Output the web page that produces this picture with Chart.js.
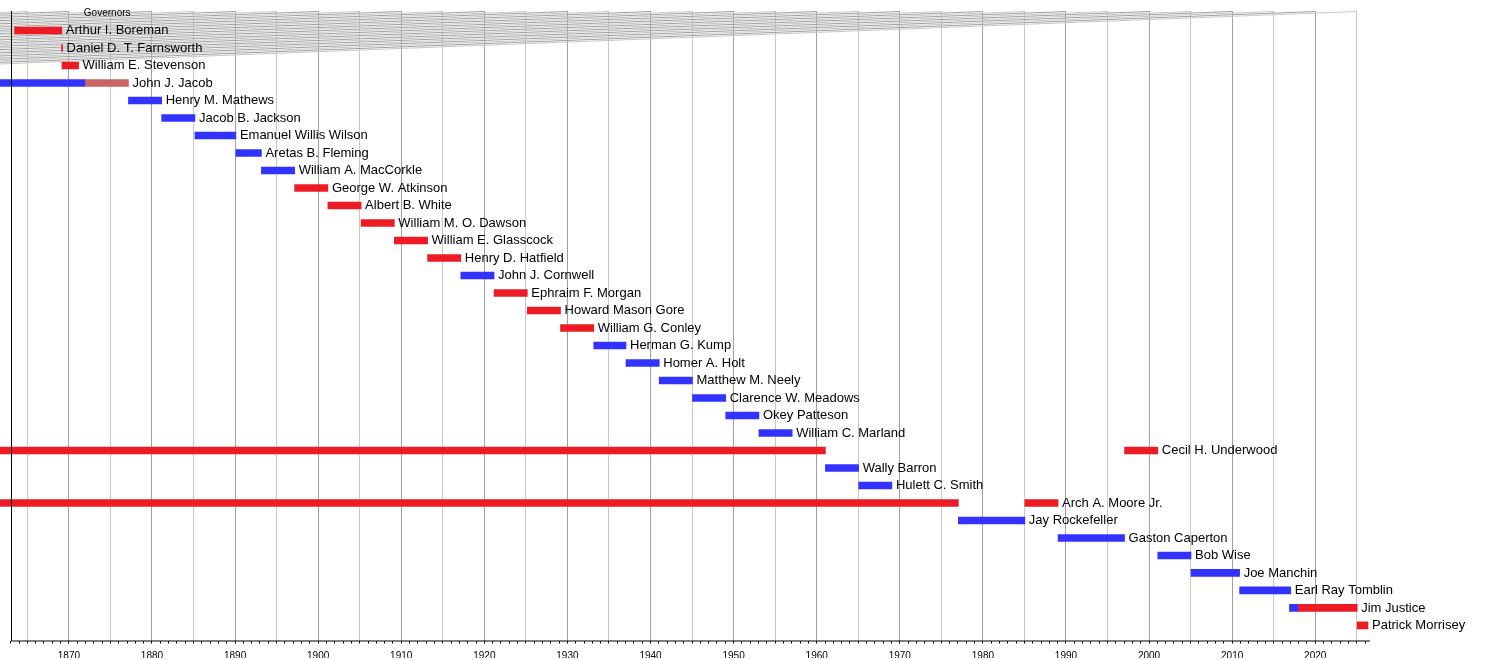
<!DOCTYPE html>
<html>
<head>
<meta charset="utf-8">
<script src="https://cdn.jsdelivr.net/npm/chart.js@4.4.1/dist/chart.umd.min.js"></script>
<style>
  html, body { margin: 0; padding: 0; background: #fff; }
  #wrap { width: 1500px; height: 660px; position: relative; }
</style>
</head>
<body>
<div id="wrap"><canvas id="timeline"></canvas></div>
<script>
const headerText = 'Governors';
const headerYear = 1871.8;

const governors = [
  'Arthur I. Boreman', 'Daniel D. T. Farnsworth', 'William E. Stevenson', 'John J. Jacob',
  'Henry M. Mathews', 'Jacob B. Jackson', 'Emanuel Willis Wilson', 'Aretas B. Fleming',
  'William A. MacCorkle', 'George W. Atkinson', 'Albert B. White', 'William M. O. Dawson',
  'William E. Glasscock', 'Henry D. Hatfield', 'John J. Cornwell', 'Ephraim F. Morgan',
  'Howard Mason Gore', 'William G. Conley', 'Herman G. Kump', 'Homer A. Holt',
  'Matthew M. Neely', 'Clarence W. Meadows', 'Okey Patteson', 'William C. Marland',
  'Cecil H. Underwood', 'Wally Barron', 'Hulett C. Smith', 'Arch A. Moore Jr.',
  'Jay Rockefeller', 'Gaston Caperton', 'Bob Wise', 'Joe Manchin',
  'Earl Ray Tomblin', 'Jim Justice', 'Patrick Morrisey'
];

// one entry per drawn bar: governor index, from, to, party
const termGov   = [0, 1, 2, 3, 3, 4, 5, 6, 7, 8, 9, 10, 11, 12, 13, 14, 15, 16, 17, 18, 19, 20, 21, 22, 23, 24, 24, 25, 26, 27, 27, 28, 29, 30, 31, 32, 33, 33, 34];
const termFrom  = [1863.47, 1869.12, 1869.17, 1855, 1872.0, 1877.17, 1881.17, 1885.17, 1890.1, 1893.17, 1897.17, 1901.17, 1905.17, 1909.17, 1913.17, 1917.17, 1921.17, 1925.17, 1929.17, 1933.17, 1937.05, 1941.05, 1945.05, 1949.05, 1953.05, 1855, 1997.05, 1961.05, 1965.05, 1855, 1985.05, 1977.05, 1989.05, 2001.05, 2005.05, 2010.9, 2016.9, 2018.0, 2025.05];
const termTo    = [1869.15, 1869.24, 1871.17, 1872.0, 1877.17, 1881.17, 1885.17, 1890.1, 1893.17, 1897.17, 1901.17, 1905.17, 1909.17, 1913.17, 1917.17, 1921.17, 1925.17, 1929.17, 1933.17, 1937.05, 1941.05, 1945.05, 1949.05, 1953.05, 1957.05, 1961.05, 2001.05, 1965.05, 1969.05, 1977.05, 1989.05, 1985.05, 1997.05, 2005.05, 2010.9, 2017.05, 2018.0, 2025.05, 2026.35];
const termParty = ['R', 'R', 'R', 'D', 'I', 'D', 'D', 'D', 'D', 'D', 'R', 'R', 'R', 'R', 'R', 'D', 'R', 'R', 'R', 'D', 'D', 'D', 'D', 'D', 'D', 'R', 'R', 'D', 'D', 'R', 'R', 'D', 'D', 'D', 'D', 'D', 'D', 'R', 'R'];

const partyColors = { D: '#3333ff', R: '#ed1c24', I: '#c86464' };

const axisStart = 1863;
const axisMin = 1861.71;
const axisMax = 2026.59;

const fontFamily = '"Liberation Sans", Arial, Helvetica, sans-serif';

function gridColor(v) {
  if (v < axisStart) return 'rgba(0,0,0,0)';
  if (v % 10 === 0) return '#a0a0a0';
  if (v % 5 === 0) return '#c8c8c8';
  return 'rgba(0,0,0,0)';
}

const timelineDecor = {
  id: 'timelineDecor',
  beforeDatasetsDraw(chart) {
    const { ctx, chartArea, scales: { x } } = chart;
    ctx.save();
    ctx.lineWidth = 1;
    x.ticks.forEach(t => {
      const c = gridColor(t.value);
      if (c === 'rgba(0,0,0,0)') return;
      const xg = x.getPixelForValue(t.value);
      ctx.strokeStyle = c;
      ctx.beginPath();
      ctx.moveTo(xg, chartArea.top + 0.5);
      ctx.lineTo(chartArea.left, chartArea.top + 0.5 + (xg - chartArea.left) * 0.0387);
      ctx.stroke();
    });
    ctx.restore();
  },
  afterDatasetsDraw(chart) {
    const { ctx, chartArea, scales: { x, y } } = chart;
    ctx.save();
    const x0 = Math.round(x.getPixelForValue(axisStart)) + 0.5;
    ctx.strokeStyle = '#000';
    ctx.lineWidth = 1;
    ctx.beginPath();
    ctx.moveTo(x0, chartArea.top);
    ctx.lineTo(x0, chartArea.bottom + 0.5);
    ctx.lineTo(chartArea.right, chartArea.bottom + 0.5);
    ctx.stroke();

    ctx.fillStyle = '#000';
    ctx.textBaseline = 'middle';
    ctx.textAlign = 'left';
    ctx.font = '10px ' + fontFamily;
    ctx.fillText(headerText, x.getPixelForValue(headerYear), y.getPixelForValue(0));

    ctx.font = '13px ' + fontFamily;
    governors.forEach((name, g) => {
      let end = -Infinity;
      termGov.forEach((tg, i) => { if (tg === g) end = Math.max(end, termTo[i]); });
      ctx.fillText(name, x.getPixelForValue(end) + 4, y.getPixelForValue(g + 1));
    });
    ctx.restore();
  }
};

new Chart(document.getElementById('timeline'), {
  type: 'bar',
  data: {
    datasets: [{
      data: termGov.map((g, i) => ({ x: [termFrom[i], termTo[i]], y: g + 1 })),
      backgroundColor: termParty.map(p => partyColors[p]),
      borderWidth: 0,
      borderSkipped: false,
      barThickness: 7,
      grouped: false
    }]
  },
  options: {
    indexAxis: 'y',
    animation: false,
    responsive: true,
    maintainAspectRatio: false,
    layout: { padding: { top: 11, right: 130, bottom: 2, left: 0 } },
    plugins: { legend: { display: false }, tooltip: { enabled: false } },
    scales: {
      x: {
        type: 'linear',
        min: axisMin,
        max: axisMax,
        border: { display: false },
        afterFit: (scale) => {
          scale.height = 17.5;
          scale.paddingLeft = 0;
          scale.paddingRight = 0;
        },
        grid: {
          color: (c) => gridColor(c.tick.value),
          tickColor: (c) => c.tick.value >= axisStart ? '#000' : 'rgba(0,0,0,0)',
          tickLength: 3,
          lineWidth: 1
        },
        ticks: {
          stepSize: 1,
          maxTicksLimit: 400,
          autoSkip: false,
          maxRotation: 0,
          includeBounds: false,
          padding: 6.5,
          color: '#000',
          font: { size: 10, family: fontFamily },
          callback: (v) => v % 10 === 0 ? String(v) : ''
        }
      },
      y: {
        type: 'linear',
        reverse: true,
        offset: false,
        min: -0.114,
        max: 35.86,
        display: false,
        grid: { offset: false }
      }
    }
  },
  plugins: [timelineDecor]
});
</script>
</body>
</html>
